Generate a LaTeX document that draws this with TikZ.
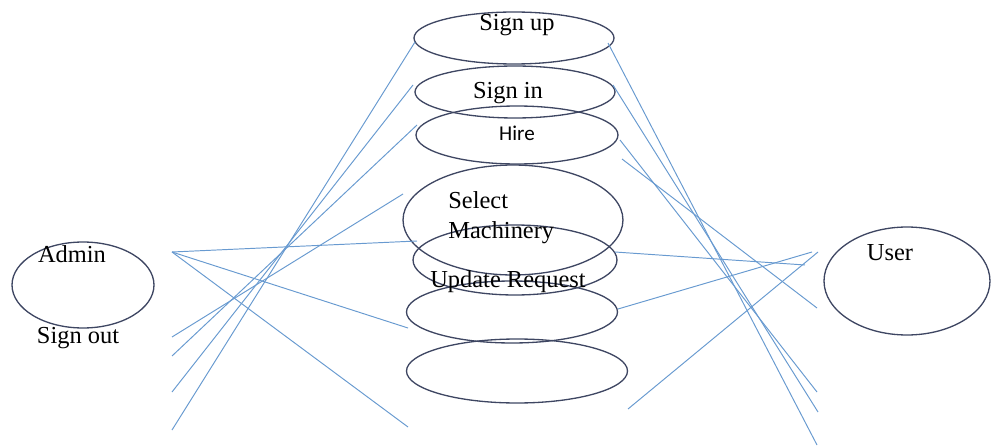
\documentclass[tikz,border=0pt]{standalone}
\usepackage{fontspec}
\setmainfont{Liberation Serif}
\newfontfamily\hirefont{Carlito}
\usetikzlibrary{shapes.geometric}

\definecolor{lineblue}{RGB}{104,154,208}
\definecolor{ovalgray}{RGB}{62,70,98}

\tikzset{
    usecase/.style={draw=ovalgray, line width=0.75pt, ellipse, inner sep=0pt},
    link/.style={draw=lineblue, line width=0.55pt},
    lbl/.style={inner sep=0pt, font=\fontsize{13.9}{16.7}\selectfont}
}

\begin{document}
\begin{tikzpicture}[x=0.02cm, y=-0.02cm]
        \useasboundingbox (0, 0) rectangle (991, 446);

        \node[usecase, minimum width=2.84cm, minimum height=1.72cm] (admin) at (83, 285) {};
        \node[usecase, minimum width=4.0cm, minimum height=1.04cm] (signup) at (514, 38) {};
        \node[usecase, minimum width=4.0cm, minimum height=1.04cm] (signin) at (515, 92) {};
        \node[usecase, minimum width=4.04cm, minimum height=1.16cm] (hire) at (517, 135) {};
        \node[usecase, minimum width=4.4cm, minimum height=2.2cm] (select) at (513, 220) {};
        \node[usecase, minimum width=4.08cm, minimum height=1.4cm] (update) at (515, 260) {};
        \node[usecase, minimum width=4.22cm, minimum height=1.24cm] (blankA) at (512, 312) {};
        \node[usecase, minimum width=4.42cm, minimum height=1.28cm] (blankB) at (517, 371) {};
        \node[usecase, minimum width=3.32cm, minimum height=2.16cm] (user) at (907, 281) {};

        \node[lbl] (admintxt) at (72, 254) {Admin};
        \node[lbl] (signouttxt) at (78, 338) {Sign out};
        \node[lbl] (signuptxt) at (517, 25) {Sign up};
        \node[lbl] (signintxt) at (508, 93) {Sign in};
        \node[inner sep=0pt, font=\hirefont\fontsize{12}{14}\selectfont] (hiretxt) at (517, 133) {Hire};
        \node[lbl, align=left, anchor=west] (selecttxt) at (448, 217.5) {Select\\Machinery};
        \node[lbl] (updatetxt) at (508, 282) {Update Request};
        \node[lbl] (usertxt) at (890, 253) {User};

        \coordinate (a0) at (172, 252);
        \coordinate (a1) at (417, 241);
        \coordinate (a2) at (408, 328);
        \coordinate (a3) at (408, 427);
        \draw[link] (a0) -- (a1);
        \draw[link] (a0) -- (a2);
        \draw[link] (a0) -- (a3);

        \coordinate (l1) at (172, 337);
        \coordinate (l2) at (172, 356);
        \coordinate (l3) at (172, 392);
        \coordinate (l4) at (172, 430);
        \coordinate (m1) at (403, 194);
        \coordinate (m2) at (417, 125);
        \coordinate (m3) at (413, 85);
        \coordinate (m4) at (415, 42);
        \draw[link] (l1) -- (m1);
        \draw[link] (l2) -- (m2);
        \draw[link] (l3) -- (m3);
        \draw[link] (l4) -- (m4);

        \coordinate (r1) at (608, 43);
        \coordinate (r2) at (613, 85);
        \coordinate (r3) at (620, 140);
        \coordinate (r4) at (622, 159);
        \coordinate (s1) at (817, 445);
        \coordinate (s2) at (818, 412);
        \coordinate (s3) at (817, 392);
        \coordinate (s4) at (817, 308);
        \draw[link] (r1) -- (s1);
        \draw[link] (r2) -- (s2);
        \draw[link] (r3) -- (s3);
        \draw[link] (r4) -- (s4);

        \coordinate (r5) at (615, 252);
        \coordinate (r6) at (618, 309);
        \coordinate (r7) at (628, 409);
        \coordinate (s5) at (805, 265);
        \coordinate (s6) at (812, 252);
        \coordinate (s7) at (818, 252);
        \draw[link] (r5) -- (s5);
        \draw[link] (r6) -- (s6);
        \draw[link] (r7) -- (s7);
\end{tikzpicture}
\end{document}
